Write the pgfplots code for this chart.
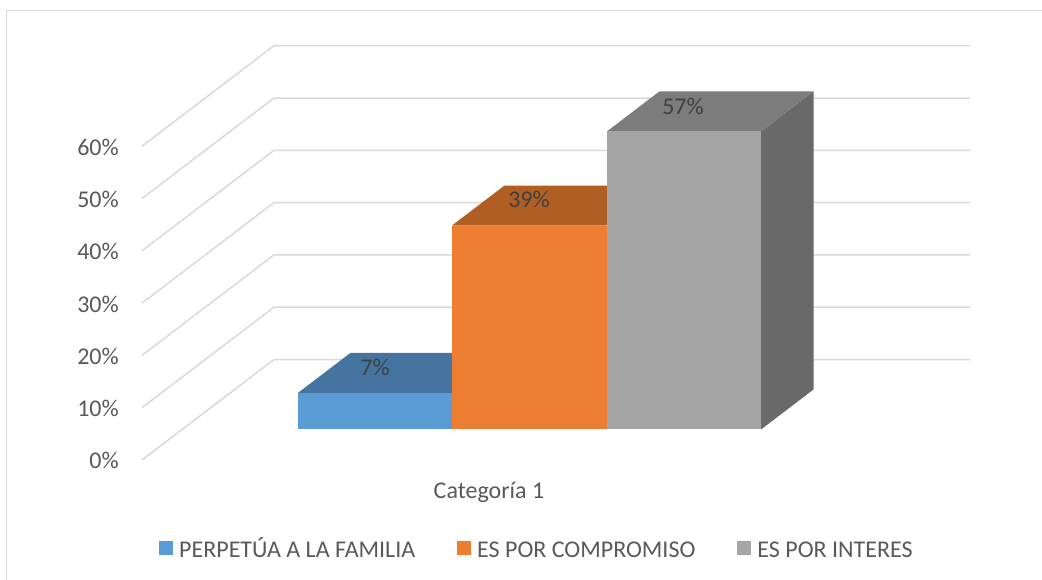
\documentclass[border=0pt]{standalone}
\usepackage{fontspec}
\setmainfont{Carlito}
\usepackage{pgfplots}
\pgfplotsset{compat=1.18}
\definecolor{cgrid}{HTML}{D9D9D9}
\definecolor{ctext}{HTML}{595959}
\definecolor{clab}{HTML}{404040}
\definecolor{cblue}{HTML}{5B9BD5}
\definecolor{cbluet}{HTML}{44749F}
\definecolor{corange}{HTML}{ED7D31}
\definecolor{coranget}{HTML}{B15E25}
\definecolor{cgray}{HTML}{A5A5A5}
\definecolor{cgrayt}{HTML}{7C7C7C}
\definecolor{cgrays}{HTML}{696969}
\begin{document}
\begin{tikzpicture}
\useasboundingbox (-142pt,0pt) rectangle (900pt,580pt);
\begin{axis}[
  scale only axis, width=900pt, height=580pt,
  xmin=142, xmax=1042, ymin=-28.776, ymax=82.122,
  clip=false,
  axis line style={draw=none},
  xtick=\empty,
  ytick={-6.0,4.0,14.0,24.0,34.0,44.0,54.0},
  yticklabels={0\%,10\%,20\%,30\%,40\%,50\%,60\%},
  major tick length=0pt,
  ytick style={draw=none},
  yticklabel style={font=\fontsize{24}{26}\selectfont, text=ctext, anchor=east, inner sep=0pt, xshift=-23pt},
  legend columns=3,
  legend style={at={(axis cs:159,-22.66)}, anchor=west, draw=none, fill=none, inner xsep=0pt, inner ysep=0pt,
    font=\fontsize{24}{26}\selectfont, text=ctext,
    /tikz/every even column/.append style={column sep=42pt},
    nodes={inner xsep=0pt, inner ysep=2pt}},
  legend image code/.code={\fill[#1] (0pt,-7pt) rectangle (14pt,7pt); \path (0pt,0pt) -- (20pt,0pt);},
]
% frame
\addplot[forget plot, cgrid, line width=1.5pt] coordinates {(6.5,-28.776)(6.5,80.11)(1042,80.11)};
% walls and floor grid
\addplot[forget plot, cgrid, line width=1.5pt] coordinates {(142,-5.83)(274,13.38)(970,13.38)};
\addplot[forget plot, cgrid, line width=1.5pt] coordinates {(142,4.17)(274,23.38)(970,23.38)};
\addplot[forget plot, cgrid, line width=1.5pt] coordinates {(142,14.17)(274,33.38)(970,33.38)};
\addplot[forget plot, cgrid, line width=1.5pt] coordinates {(142,24.17)(274,43.38)(970,43.38)};
\addplot[forget plot, cgrid, line width=1.5pt] coordinates {(142,34.17)(274,53.38)(970,53.38)};
\addplot[forget plot, cgrid, line width=1.5pt] coordinates {(142,44.17)(274,63.38)(970,63.38)};
\addplot[forget plot, cgrid, line width=1.5pt] coordinates {(142,54.17)(274,73.38)(970,73.38)};
% side and tops
\addplot[forget plot, fill=cgrays, draw=none] coordinates {(761,0)(813.5,7.65)(813.5,64.65)(761,57)} --cycle;
\addplot[forget plot, fill=cgrayt, draw=none] coordinates {(607,57)(659.5,64.65)(813.5,64.65)(761,57)} --cycle;
\addplot[forget plot, fill=coranget, draw=none] coordinates {(452,39)(504.5,46.65)(658.5,46.65)(606,39)} --cycle;
\addplot[forget plot, fill=cbluet, draw=none] coordinates {(298,7)(350.5,14.65)(504.5,14.65)(452,7)} --cycle;
% fronts (hold the values)
\addplot[fill=cblue, draw=none] coordinates {(298,0)(452,0)(452,7)(298,7)} --cycle;
\addlegendentry{\vphantom{Úp}PERPETÚA A LA FAMILIA}
\addplot[fill=corange, draw=none] coordinates {(452,0)(607,0)(607,39)(452,39)} --cycle;
\addlegendentry{\vphantom{Úp}ES POR COMPROMISO}
\addplot[fill=cgray, draw=none] coordinates {(607,0)(761,0)(761,57)(607,57)} --cycle;
\addlegendentry{\vphantom{Úp}ES POR INTERES}
% data labels
\node[text=clab, font=\fontsize{24}{26}\selectfont, inner sep=0pt] at (axis cs:375,11.8) {7\%};
\node[text=clab, font=\fontsize{24}{26}\selectfont, inner sep=0pt] at (axis cs:529,44.0) {39\%};
\node[text=clab, font=\fontsize{24}{26}\selectfont, inner sep=0pt] at (axis cs:683,61.8) {57\%};
\node[text=ctext, font=\fontsize{24}{26}\selectfont, inner sep=0pt] at (axis cs:489,-11.95) {Categoría 1};
\end{axis}
\end{tikzpicture}
\end{document}
